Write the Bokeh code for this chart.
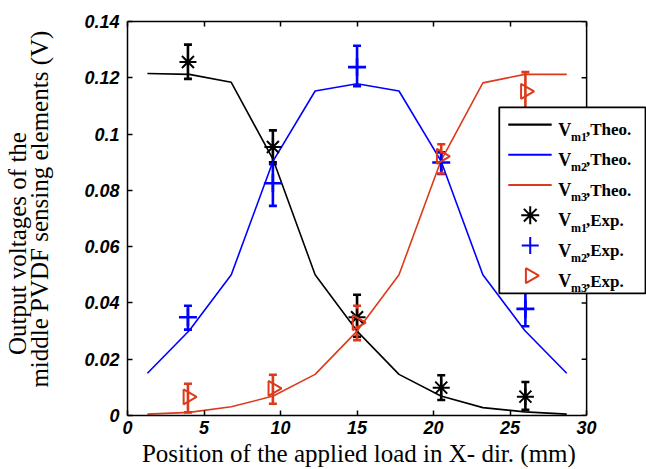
import math
from bokeh.plotting import figure
from bokeh.models import (ColumnDataSource, Whisker, TeeHead, LinearAxis, FixedTicker,
                          Label, BoxAnnotation, CustomJSTickFormatter, Range1d, Span)
from bokeh.embed import file_html
from bokeh.resources import INLINE

# ---------------- data ----------------
x_theo = [1.3, 4.04, 6.78, 9.52, 12.26, 15.0, 17.74, 20.48, 23.22, 25.96, 28.7]
vm1_theo = [0.1215, 0.1212, 0.1184, 0.0909, 0.0500, 0.0300, 0.0146, 0.0069, 0.0028, 0.0013, 0.0005]
vm2_theo = [0.0150, 0.0302, 0.0500, 0.0905, 0.1153, 0.1179, 0.1153, 0.0905, 0.0500, 0.0302, 0.0150]
vm3_theo = [0.0005, 0.0011, 0.0031, 0.0069, 0.0146, 0.0300, 0.0500, 0.0905, 0.1182, 0.1212, 0.1212]

x_exp = [3.95, 9.5, 15.0, 20.5, 26.0]
vm1_exp = [0.1256, 0.0954, 0.0349, 0.0099, 0.0067]
vm1_lo = [0.1196, 0.0900, 0.0280, 0.0055, 0.0020]
vm1_hi = [0.1318, 0.1013, 0.0429, 0.0143, 0.0119]
vm2_exp = [0.0349, 0.0825, 0.1238, 0.0899, 0.0379]
vm2_lo = [0.0305, 0.0745, 0.1170, 0.0858, 0.0317]
vm2_hi = [0.0390, 0.0893, 0.1314, 0.0935, 0.0440]
vm3_exp = [0.0066, 0.0096, 0.0330, 0.0921, 0.1152]
vm3_lo = [0.0011, 0.0042, 0.0268, 0.0860, 0.1080]
vm3_hi = [0.0113, 0.0145, 0.0390, 0.0964, 0.1220]

x_ticks = [0, 5, 10, 15, 20, 25, 30]
x_tick_labels = ["0", "5", "10", "15", "20", "25", "30"]
y_ticks = [0, 0.02, 0.04, 0.06, 0.08, 0.1, 0.12, 0.14]
y_tick_labels = ["0", "0.02", "0.04", "0.06", "0.08", "0.1", "0.12", "0.14"]

x_title = "Position of the applied load in X- dir. (mm)"
y_title_lines = ["Output voltages of the", "middle PVDF sensing elements (V)"]
legend_subs = ["m1", "m2", "m3", "m1", "m2", "m3"]
legend_suffix = [",Theo.", ",Theo.", ",Theo.", ",Exp.", ",Exp.", ",Exp."]

# ---------------- style ----------------
BLACK = "#000000"
BLUE = "#0000ff"
RED = "#dc3a1b"
W, H = 646, 469
FL, FR, FT, FB = 126, 586, 21, 416   # axes box edges in pixels (x = 0..30, y = 0..0.14)
X0, X1, Y0, Y1 = 0, 30, 0, 0.14
# the drawing frame runs to the right edge of the canvas so that the legend box,
# which sticks out of the axes box, is not clipped
X1_VIEW = X0 + (W - FL) / (FR - FL) * (X1 - X0)
NB = "\u00a0"   # padding used to slide the centred titles along their axis

p = figure(width=W, height=H, x_range=Range1d(X0, X1_VIEW), y_range=Range1d(Y0, Y1),
           output_backend="svg", toolbar_location=None,
           min_border_left=FL, min_border_right=0,
           min_border_top=FT, min_border_bottom=H - FB,
           x_axis_type=None, y_axis_type=None)
p.grid.visible = False
p.outline_line_color = None
p.background_fill_color = "white"
p.border_fill_color = "white"

def px2x(px):
    return X0 + (px - FL) / (FR - FL) * (X1 - X0)

def py2y(py):
    return Y0 + (FB - py) / (FB - FT) * (Y1 - Y0)

TICK = 5

def base_axis(ax, ticks):
    ax.ticker = FixedTicker(ticks=ticks, minor_ticks=[])
    ax.major_tick_in = TICK
    ax.major_tick_out = 0
    ax.minor_tick_in = 0
    ax.minor_tick_out = 0
    ax.axis_line_width = 1.5
    ax.major_tick_line_width = 1.5
    ax.axis_line_color = BLACK
    ax.major_tick_line_color = BLACK

def show_labels(ax, ticks, labels, standoff):
    ax.major_label_overrides = {t: l for t, l in zip(ticks, labels)}
    ax.major_label_text_font = "Liberation Sans"
    ax.major_label_text_font_style = "bold italic"
    ax.major_label_text_font_size = "18px"
    ax.major_label_text_color = BLACK
    ax.major_label_standoff = standoff

def hide_labels(ax):
    ax.formatter = CustomJSTickFormatter(code="return ''")
    ax.major_label_standoff = 0
    ax.major_label_text_font_size = "0px"

def title_axis(ax, text, standoff):
    ax.ticker = FixedTicker(ticks=[], minor_ticks=[])
    ax.axis_line_color = None
    ax.major_tick_line_color = None
    ax.minor_tick_line_color = None
    ax.major_tick_in = 0
    ax.major_tick_out = 0
    ax.minor_tick_in = 0
    ax.minor_tick_out = 0
    ax.major_label_standoff = 0
    ax.major_label_text_font_size = "0px"
    ax.axis_label = text
    ax.axis_label_text_font = "Liberation Serif"
    ax.axis_label_text_font_style = "normal"
    ax.axis_label_text_font_size = "25px"
    ax.axis_label_text_color = BLACK
    ax.axis_label_standoff = standoff

# bottom axis with its title
xb = LinearAxis(bounds=(X0, X1))
base_axis(xb, x_ticks)
show_labels(xb, x_ticks, x_tick_labels, 5)
xb.axis_label = x_title + NB * 9
xb.axis_label_text_font = "Liberation Serif"
xb.axis_label_text_font_style = "normal"
xb.axis_label_text_font_size = "25px"
xb.axis_label_text_color = BLACK
xb.axis_label_standoff = 3
p.add_layout(xb, "below")

# left axis
yl = LinearAxis()
base_axis(yl, y_ticks)
show_labels(yl, y_ticks, y_tick_labels, 8)
p.add_layout(yl, "left")

# two-line y title, one line per (tickless) axis
yt2 = LinearAxis()
title_axis(yt2, NB * 3 + y_title_lines[1], 29)
p.add_layout(yt2, "left")
yt1 = LinearAxis()
title_axis(yt1, y_title_lines[0] + NB * 8, -8)
p.add_layout(yt1, "left")

# top axis (ticks only)
xt = LinearAxis(bounds=(X0, X1))
base_axis(xt, x_ticks)
hide_labels(xt)
p.add_layout(xt, "above")

# right edge of the axes box at x = 30, with inward ticks
p.add_layout(Span(location=X1, dimension="height", line_color=BLACK, line_width=1.5))
dx = px2x(FL + TICK) - px2x(FL)
p.segment(x0=[X1 - dx] * len(y_ticks), y0=y_ticks, x1=[X1] * len(y_ticks), y1=y_ticks,
          line_color=BLACK, line_width=1.5)

# ---------------- theory curves ----------------
for ys, c in [(vm1_theo, BLACK), (vm2_theo, BLUE), (vm3_theo, RED)]:
    p.line(x_theo, ys, line_color=c, line_width=1.6)

# ---------------- error bars ----------------
for ys, lo, hi, c in [(vm1_exp, vm1_lo, vm1_hi, BLACK),
                      (vm2_exp, vm2_lo, vm2_hi, BLUE),
                      (vm3_exp, vm3_lo, vm3_hi, RED)]:
    src = ColumnDataSource(dict(x=x_exp, y=ys, lo=lo, hi=hi))
    wk = Whisker(source=src, base="x", lower="lo", upper="hi", dimension="height",
                 line_color=c, line_width=2.6,
                 upper_head=TeeHead(size=8, line_color=c, line_width=2.6),
                 lower_head=TeeHead(size=8, line_color=c, line_width=2.6))
    p.add_layout(wk)

# ---------------- experimental markers ----------------
p.scatter(x_exp, vm1_exp, marker="asterisk", size=17, line_color=BLACK, line_width=2)
p.scatter(x_exp, vm2_exp, marker="cross", size=18, line_color=BLUE, line_width=2.6)
p.scatter(x_exp, vm3_exp, marker="triangle", angle=-math.pi / 2, size=15,
          fill_color=None, line_color=RED, line_width=2)

# ---------------- legend (drawn by hand for subscripts) ----------------
box_l, box_r, box_t, box_b = 498.5, 645, 107, 293.5
p.add_layout(BoxAnnotation(left=px2x(box_l), right=px2x(box_r), top=py2y(box_t), bottom=py2y(box_b),
                           fill_color="white", fill_alpha=1.0,
                           line_color=BLACK, line_width=1.8, line_alpha=1.0))

rows = [124.3 + 30.3 * i for i in range(6)]
line_colors = [BLACK, BLUE, RED]
for i in range(3):
    r = p.segment(x0=[px2x(507.5)], y0=[py2y(rows[i])], x1=[px2x(551)], y1=[py2y(rows[i])],
                  line_color=line_colors[i], line_width=2.2)
    r.level = "overlay"
mk_x = px2x(529.5)
r = p.scatter([mk_x], [py2y(rows[3])], marker="asterisk", size=18, line_color=BLACK, line_width=2)
r.level = "overlay"
r = p.scatter([mk_x], [py2y(rows[4])], marker="cross", size=17, line_color=BLUE, line_width=2)
r.level = "overlay"
r = p.scatter([mk_x], [py2y(rows[5])], marker="triangle", angle=-math.pi / 2, size=15,
              fill_color=None, line_color=RED, line_width=2)
r.level = "overlay"

for i in range(6):
    base = FB - (rows[i] + 5.7)
    p.add_layout(Label(x=556.7 - FL, y=base, x_units="screen", y_units="screen", text="V",
                       text_font="Liberation Serif", text_font_style="bold",
                       text_font_size="18px", text_color=BLACK, text_baseline="alphabetic",
                       level="overlay"))
    p.add_layout(Label(x=569.5 - FL, y=base - 7.3, x_units="screen", y_units="screen",
                       text=legend_subs[i], text_font="Liberation Serif", text_font_style="bold",
                       text_font_size="12px", text_color=BLACK, text_baseline="alphabetic",
                       level="overlay"))
    p.add_layout(Label(x=584.5 - FL, y=base, x_units="screen", y_units="screen",
                       text=legend_suffix[i], text_font="Liberation Serif", text_font_style="bold",
                       text_font_size="17px", text_color=BLACK, text_baseline="alphabetic",
                       level="overlay"))

open("out.html", "w").write(file_html(p, INLINE))
